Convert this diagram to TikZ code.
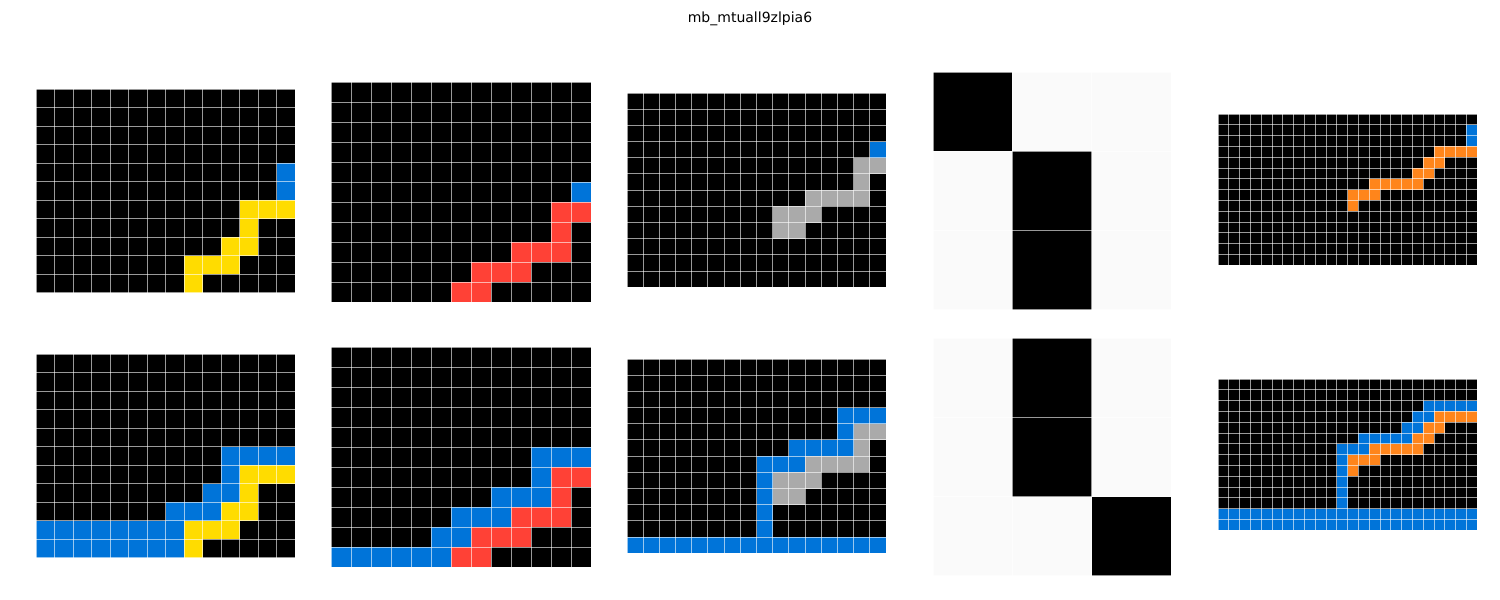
\documentclass[tikz,border=0pt]{standalone}
\usepackage{fontspec}
\setmainfont{DejaVu Sans}
\definecolor{arcblue}{HTML}{0074D9}
\definecolor{arcyellow}{HTML}{FFDC00}
\definecolor{arcred}{HTML}{FF4136}
\definecolor{arcgray}{HTML}{AAAAAA}
\definecolor{arcorange}{HTML}{FF851B}
\definecolor{arcpale}{HTML}{FAFAFA}
\tikzset{
  gridline/.style={draw=white,draw opacity=0.6,line width=0.5pt},
  titletext/.style={font=\fontsize{7}{8}\selectfont,inner sep=0pt}
}
% panel: x, y (px), cell (px), cols, rows, background, cells
\newcommand{\panel}[7]{%
  \pgfmathsetmacro\cellpt{#3*0.5}%
  \begin{scope}[shift={(#1*0.5pt,-#2*0.5pt)},x=\cellpt pt,y=-\cellpt pt]
    \fill[#6] (0,0) rectangle (#4,#5);
    #7
    \foreach \i in {0,...,#4} \draw[gridline] (\i,0) -- (\i,#5);
    \foreach \j in {0,...,#5} \draw[gridline] (0,\j) -- (#4,\j);
  \end{scope}}
\newcommand{\cells}[2]{\foreach \r/\c in {#2}{\fill[#1] (\c,\r) rectangle ++(1,1);}}
\newcommand{\cellrow}[4]{\foreach \c in {#3,...,#4}{\fill[#1] (\c,#2) rectangle ++(1,1);}}

\begin{document}
\begin{tikzpicture}
\useasboundingbox (0pt,0pt) rectangle (750pt,-300pt);
\node[titletext] (title) at (375pt,-9.5pt) {mb\_mtuall9zlpia6};

% top row
\panel{36}{89}{18.5}{14}{11}{black}{%
  \cells{arcblue}{4/13,5/13}
  \cells{arcyellow}{6/11,6/12,6/13,7/11,8/10,8/11,9/8,9/9,9/10,10/8}}
\panel{331}{82}{20}{13}{11}{black}{%
  \cells{arcblue}{5/12}
  \cells{arcred}{6/11,6/12,7/11,8/9,8/10,8/11,9/7,9/8,9/9,10/6,10/7}}
\panel{627}{93}{16.19}{16}{12}{black}{%
  \cells{arcblue}{3/15}
  \cells{arcgray}{4/14,4/15,5/14,6/11,6/12,6/13,6/14,7/9,7/10,7/11,8/9,8/10}}
\panel{933}{72}{79.33}{3}{3}{arcpale}{%
  \cells{black}{0/0,1/1,2/1}}
\panel{1218}{114}{10.8}{24}{14}{black}{%
  \cells{arcblue}{1/23,2/23}
  \cells{arcorange}{3/20,3/21,3/22,3/23,4/19,4/20,5/18,5/19,6/14,6/15,6/16,6/17,6/18,7/12,7/13,7/14,8/12}}

% bottom row
\panel{36}{354}{18.5}{14}{11}{black}{%
  \cells{arcblue}{5/10,5/11,5/12,5/13,6/10,7/9,7/10,8/7,8/8,8/9}
  \cellrow{arcblue}{9}{0}{7}
  \cellrow{arcblue}{10}{0}{7}
  \cells{arcyellow}{6/11,6/12,6/13,7/11,8/10,8/11,9/8,9/9,9/10,10/8}}
\panel{331}{347}{20}{13}{11}{black}{%
  \cells{arcblue}{5/10,5/11,5/12,6/10,7/8,7/9,7/10,8/6,8/7,8/8,9/5,9/6}
  \cellrow{arcblue}{10}{0}{5}
  \cells{arcred}{6/11,6/12,7/11,8/9,8/10,8/11,9/7,9/8,9/9,10/6,10/7}}
\panel{627}{359}{16.19}{16}{12}{black}{%
  \cells{arcblue}{3/13,3/14,3/15,4/13,5/10,5/11,5/12,5/13,6/8,6/9,6/10,7/8,8/8,9/8,10/8}
  \cellrow{arcblue}{11}{0}{15}
  \cells{arcgray}{4/14,4/15,5/14,6/11,6/12,6/13,6/14,7/9,7/10,7/11,8/9,8/10}}
\panel{933}{338}{79.33}{3}{3}{arcpale}{%
  \cells{black}{0/1,1/1,2/2}}
\panel{1218}{379}{10.8}{24}{14}{black}{%
  \cellrow{arcblue}{2}{19}{23}
  \cells{arcblue}{3/18,3/19,4/17,4/18,6/11,6/12,6/13,7/11,8/11,9/11,10/11,11/11}
  \cellrow{arcblue}{5}{13}{17}
  \cellrow{arcblue}{12}{0}{23}
  \cellrow{arcblue}{13}{0}{23}
  \cells{arcorange}{3/20,3/21,3/22,3/23,4/19,4/20,5/18,5/19,6/14,6/15,6/16,6/17,6/18,7/12,7/13,7/14,8/12}}
\end{tikzpicture}
\end{document}
